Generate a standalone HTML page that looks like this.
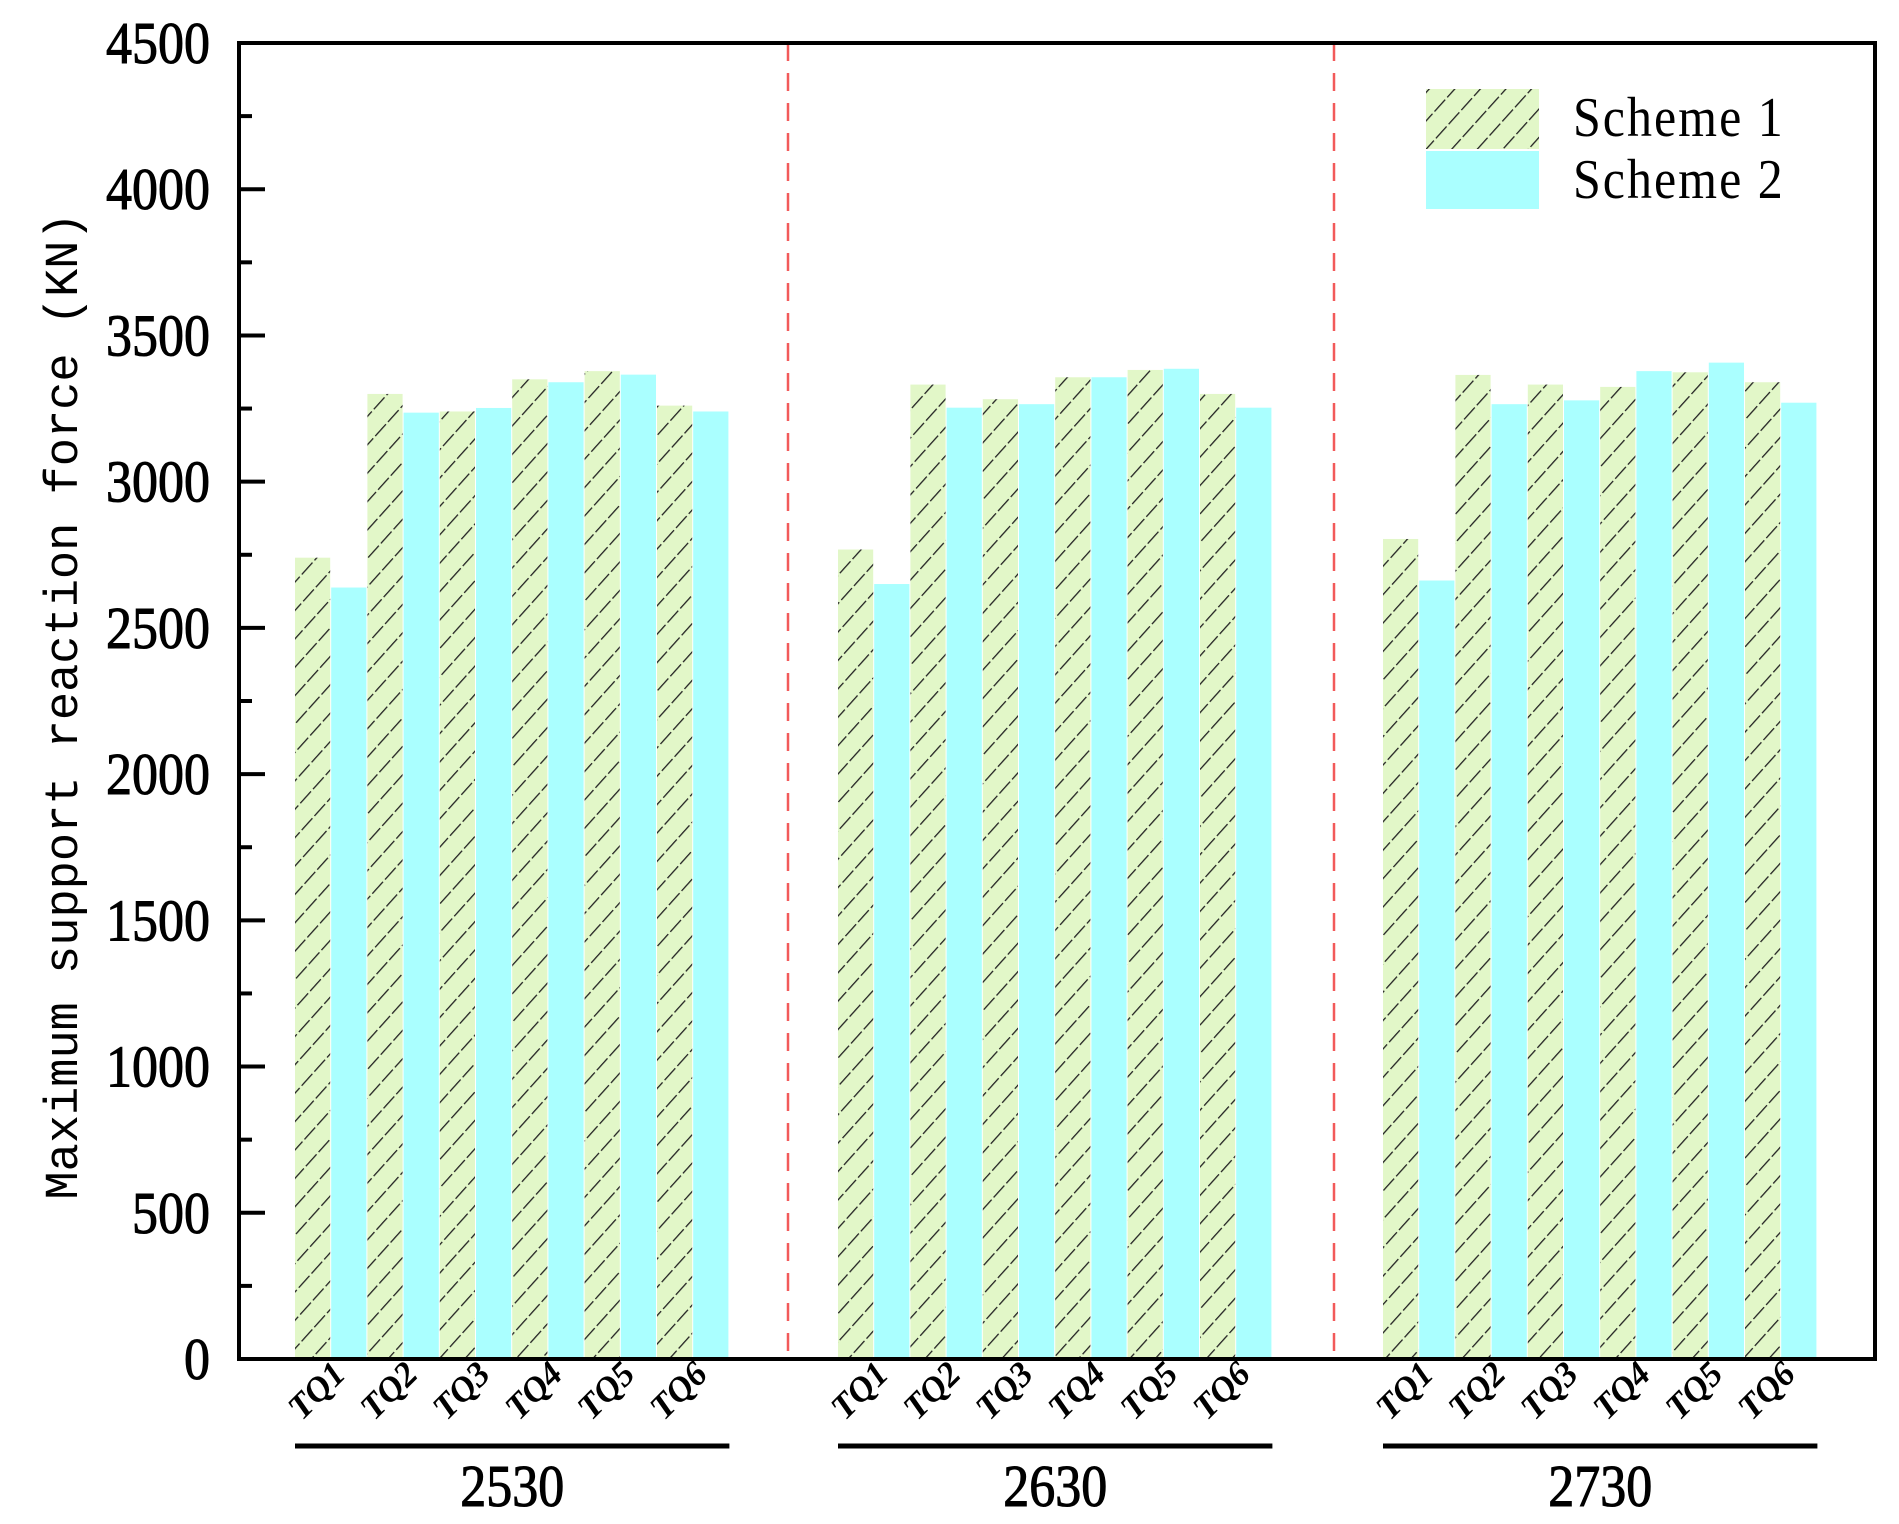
<!DOCTYPE html>
<html><head><meta charset="utf-8"><style>
html,body{margin:0;padding:0;background:#fff;}
svg{display:block;}
</style></head><body>
<svg id="chart" width="1899" height="1524" viewBox="0 0 1899 1524" xmlns="http://www.w3.org/2000/svg">
<defs>
<pattern id="hatch" patternUnits="userSpaceOnUse" width="19" height="19" patternTransform="rotate(42)">
<rect width="19" height="19" fill="#e2f7c8"/>
<line x1="0" y1="0" x2="0" y2="19" stroke="#222" stroke-width="2.6" stroke-dasharray="16 3"/>
</pattern>
</defs>
<g id="plot"></g>
</svg>
<script>
const groups = ["2530", "2630", "2730"];
const categories = ["TQ1", "TQ2", "TQ3", "TQ4", "TQ5", "TQ6"];
const scheme1 = [
  [2740, 3300, 3240, 3350, 3378, 3260],
  [2768, 3332, 3282, 3357, 3382, 3300],
  [2804, 3365, 3332, 3324, 3374, 3340]
];
const scheme2 = [
  [2638, 3236, 3252, 3340, 3366, 3240],
  [2650, 3253, 3265, 3357, 3386, 3253],
  [2662, 3265, 3278, 3378, 3407, 3270]
];
const yTicks = [0, 500, 1000, 1500, 2000, 2500, 3000, 3500, 4000, 4500];
const seriesNames = ["Scheme 1", "Scheme 2"];

const NS = "http://www.w3.org/2000/svg";
const svg = document.getElementById('plot');
const L = 239, R = 1875, T = 43, B = 1359;
const yMax = 4500;
function y(v){ return B - (v / yMax) * (B - T); }
const groupStart = [295, 838, 1383];
const barW = 36.2;
function x(g, c, s){ return groupStart[g] + (c * 2 + s) * barW; }
function mk(tag, attrs, parent){
  const e = document.createElementNS(NS, tag);
  for (const k in attrs) e.setAttribute(k, attrs[k]);
  (parent || svg).appendChild(e);
  return e;
}

[788, 1334].forEach(function(sx){
  const d = mk('line', {x1: sx, y1: T, x2: sx, y2: B, stroke: '#f25a5a', 'stroke-width': 2.5, 'stroke-dasharray': '18 12'});
  
  
});

for (let g = 0; g < groups.length; g++) {
  for (let c = 0; c < categories.length; c++) {
    const v1 = scheme1[g][c], v2 = scheme2[g][c];
    const b1 = mk('rect', {x: x(g, c, 0), y: y(v1), width: barW - 1, height: B - y(v1), fill: 'url(#hatch)'});
    
    
    const b2 = mk('rect', {x: x(g, c, 1), y: y(v2), width: barW - 1, height: B - y(v2), fill: '#aaffff'});
    
    
    const cx = x(g, c, 1);
    const t = mk('text', {x: 0, y: 0, 'font-family': 'Liberation Serif, serif', 'font-style': 'italic', 'font-weight': 'bold', 'font-size': 35, 'text-anchor': 'end', transform: 'translate(' + (cx + 16) + ',1376) rotate(-45)'});
    t.textContent = categories[c];
    
    
  }
  const gs = groupStart[g], ge = groupStart[g] + 12 * barW;
  const ul = mk('line', {x1: gs, y1: 1446, x2: ge, y2: 1446, stroke: '#000', 'stroke-width': 5});
  
  
  const gl = mk('text', {x: 0, y: 0, 'font-family': 'Liberation Serif, serif', stroke: '#000', 'stroke-width': 0.9, 'font-size': 52, 'text-anchor': 'middle', transform: 'translate(' + ((gs + ge) / 2) + ',1506) scale(1,1.15)'});
  gl.textContent = groups[g];
  
  
}

const fr = mk('rect', {x: L, y: T, width: R - L, height: B - T, fill: 'none', stroke: '#000', 'stroke-width': 4});



for (let i = 0; i < yTicks.length; i++) {
  const v = yTicks[i];
  const tk = mk('line', {x1: L, y1: y(v), x2: L + 26, y2: y(v), stroke: '#000', 'stroke-width': 4});
  
  
  if (i < yTicks.length - 1) {
    const mv = v + 250;
    const mt = mk('line', {x1: L, y1: y(mv), x2: L + 13, y2: y(mv), stroke: '#000', 'stroke-width': 4});
    
    
  }
  const lb = mk('text', {x: 0, y: 0, 'font-family': 'Liberation Serif, serif', stroke: '#000', 'stroke-width': 0.9, 'font-size': 52, 'text-anchor': 'end', transform: 'translate(210,' + (y(v) + 20) + ') scale(1,1.15)'});
  lb.textContent = v;
  
  
}

const yt = mk('text', {x: 0, y: 0, 'font-family': 'Liberation Mono, monospace', 'font-size': 47, 'text-anchor': 'middle', transform: 'translate(77,706) rotate(-90)'});
yt.textContent = 'Maximum support reaction force (KN)';



const lg = mk('g', {});


const ls1 = mk('rect', {x: 1426, y: 89, width: 113, height: 60, fill: 'url(#hatch)'}, lg);


const ls2 = mk('rect', {x: 1426, y: 151, width: 113, height: 58, fill: '#aaffff'}, lg);


[136, 198].forEach(function(by, i){
  const lt = mk('text', {x: 0, y: 0, 'font-family': 'Liberation Serif, serif', 'font-size': 50, 'letter-spacing': 2, transform: 'translate(1573,' + by + ') scale(1,1.12)', 'xml:space': 'preserve'}, lg);
  lt.textContent = seriesNames[i].replace(' ', '  ');
  
  
});
</script>
</body></html>
